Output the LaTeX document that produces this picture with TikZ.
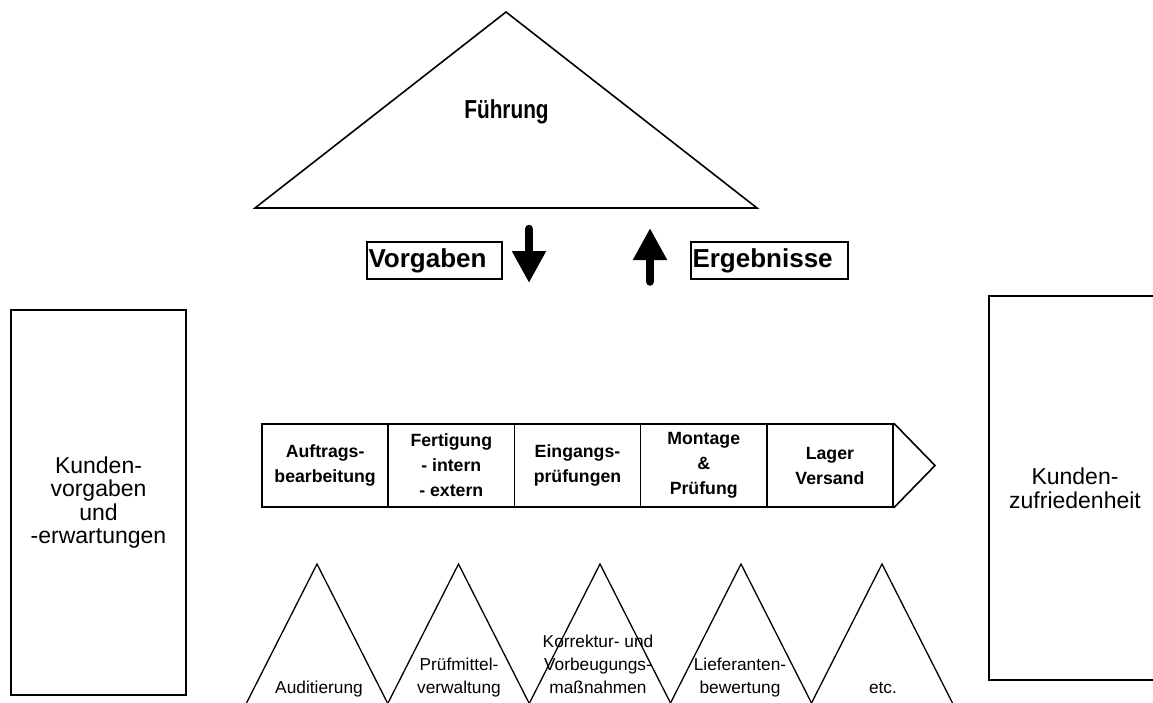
\documentclass[tikz,border=0pt]{standalone}
\usepackage{fontspec}
\setmainfont{Liberation Sans}
\newfontfamily\narrowfont[FakeStretch=0.8]{Liberation Sans}
\usetikzlibrary{arrows.meta}
\begin{document}
\begin{tikzpicture}[x=1pt,y=-1pt,
  outline/.style={draw=black, line width=1.6pt, line join=miter},
  stage/.style={draw=black, line width=1.6pt, minimum width=126.2pt, minimum height=83pt,
    inner sep=0pt, align=center, font=\bfseries\fontsize{17.7}{25}\selectfont},
  custbox/.style={draw=black, line width=1.6pt, inner sep=0pt, align=center,
    font=\fontsize{23}{23.6}\selectfont},
  labelbox/.style={draw=black, line width=1.4pt, minimum height=37pt, inner xsep=1.5pt,
    inner ysep=0pt, align=left},
  blockarrow/.style={line width=8.5pt, line cap=round, -{Triangle[width=32pt,length=32pt]}},
  tri/.style={draw=black, line width=1.3pt},
  tritext/.style={align=center, anchor=base, font=\fontsize{17.3}{23}\selectfont}]
\useasboundingbox (0,0) rectangle (1153,702);
\fill[white] (0,0) rectangle (1153,702);
\begin{scope}
\clip (0,0) rectangle (1153,702);
% top triangle
\coordinate (apex) at (506,12);
\coordinate (bl) at (255,208);
\coordinate (br) at (757,208);
\draw[outline] (bl) -- (apex) -- (br) -- cycle;
\node (fuehrung) at (506.5,112) {\narrowfont\bfseries\fontsize{26}{30}\selectfont Führung};
% labels and arrows
\node[labelbox, text width=132pt, font=\bfseries\fontsize{26}{28}\selectfont] (vorgaben) at (434.5,260.5) {Vorgaben};
\node[labelbox, text width=154pt, font=\bfseries\fontsize{26}{28}\selectfont] (ergebnisse) at (769.5,260.5) {Ergebnisse};
\coordinate (downstart) at (529,229);
\coordinate (downtip) at (529,283);
\draw[blockarrow] (downstart) -- (downtip);
\coordinate (upstart) at (650,281.5);
\coordinate (uptip) at (650,228);
\draw[blockarrow] (upstart) -- (uptip);
% process chevron
\node[stage] (s1) at (325.1,465.5) {Auftrags-\\bearbeitung};
\node[stage] (s2) at (451.3,465.5) {Fertigung\\- intern\\- extern};
\node[stage] (s3) at (577.5,465.5) {Eingangs-\\prüfungen};
\node[stage] (s4) at (703.7,465.5) {Montage\\\&\\Prüfung};
\node[stage] (s5) at (829.9,465.5) {Lager\\Versand};
\coordinate (chevtip) at (935,465.5);
\draw[outline] (s5.north east) -- (chevtip) -- (s5.south east);
% customer boxes
\node[custbox, minimum width=175pt, minimum height=385pt] (kv) at (98.5,502.5) {Kunden-\\vorgaben\\und\\-erwartungen};
\node[custbox, minimum width=172pt, minimum height=384pt] (kz) at (1075,488) {Kunden-\\zufriedenheit};
% support triangles
\foreach \x [count=\i] in {317,458.5,600,741,882} {
  \coordinate (ta\i) at (\x,564);
  \coordinate (tl\i) at (\x-84.2,730);
  \coordinate (tr\i) at (\x+84.2,730);
  \draw[tri] (tl\i) -- (ta\i) -- (tr\i);
}
\node[tritext] (aud) at (319,693) {Auditierung};
\node[tritext] (pruef) at (459,693) {Prüfmittel-\\verwaltung};
\node[tritext] (korr) at (598,693) {Korrektur- und\\Vorbeugungs-\\maßnahmen};
\node[tritext] (lief) at (740,693) {Lieferanten-\\bewertung};
\node[tritext] (etc) at (883,693) {etc.};
\end{scope}
\end{tikzpicture}
\end{document}
